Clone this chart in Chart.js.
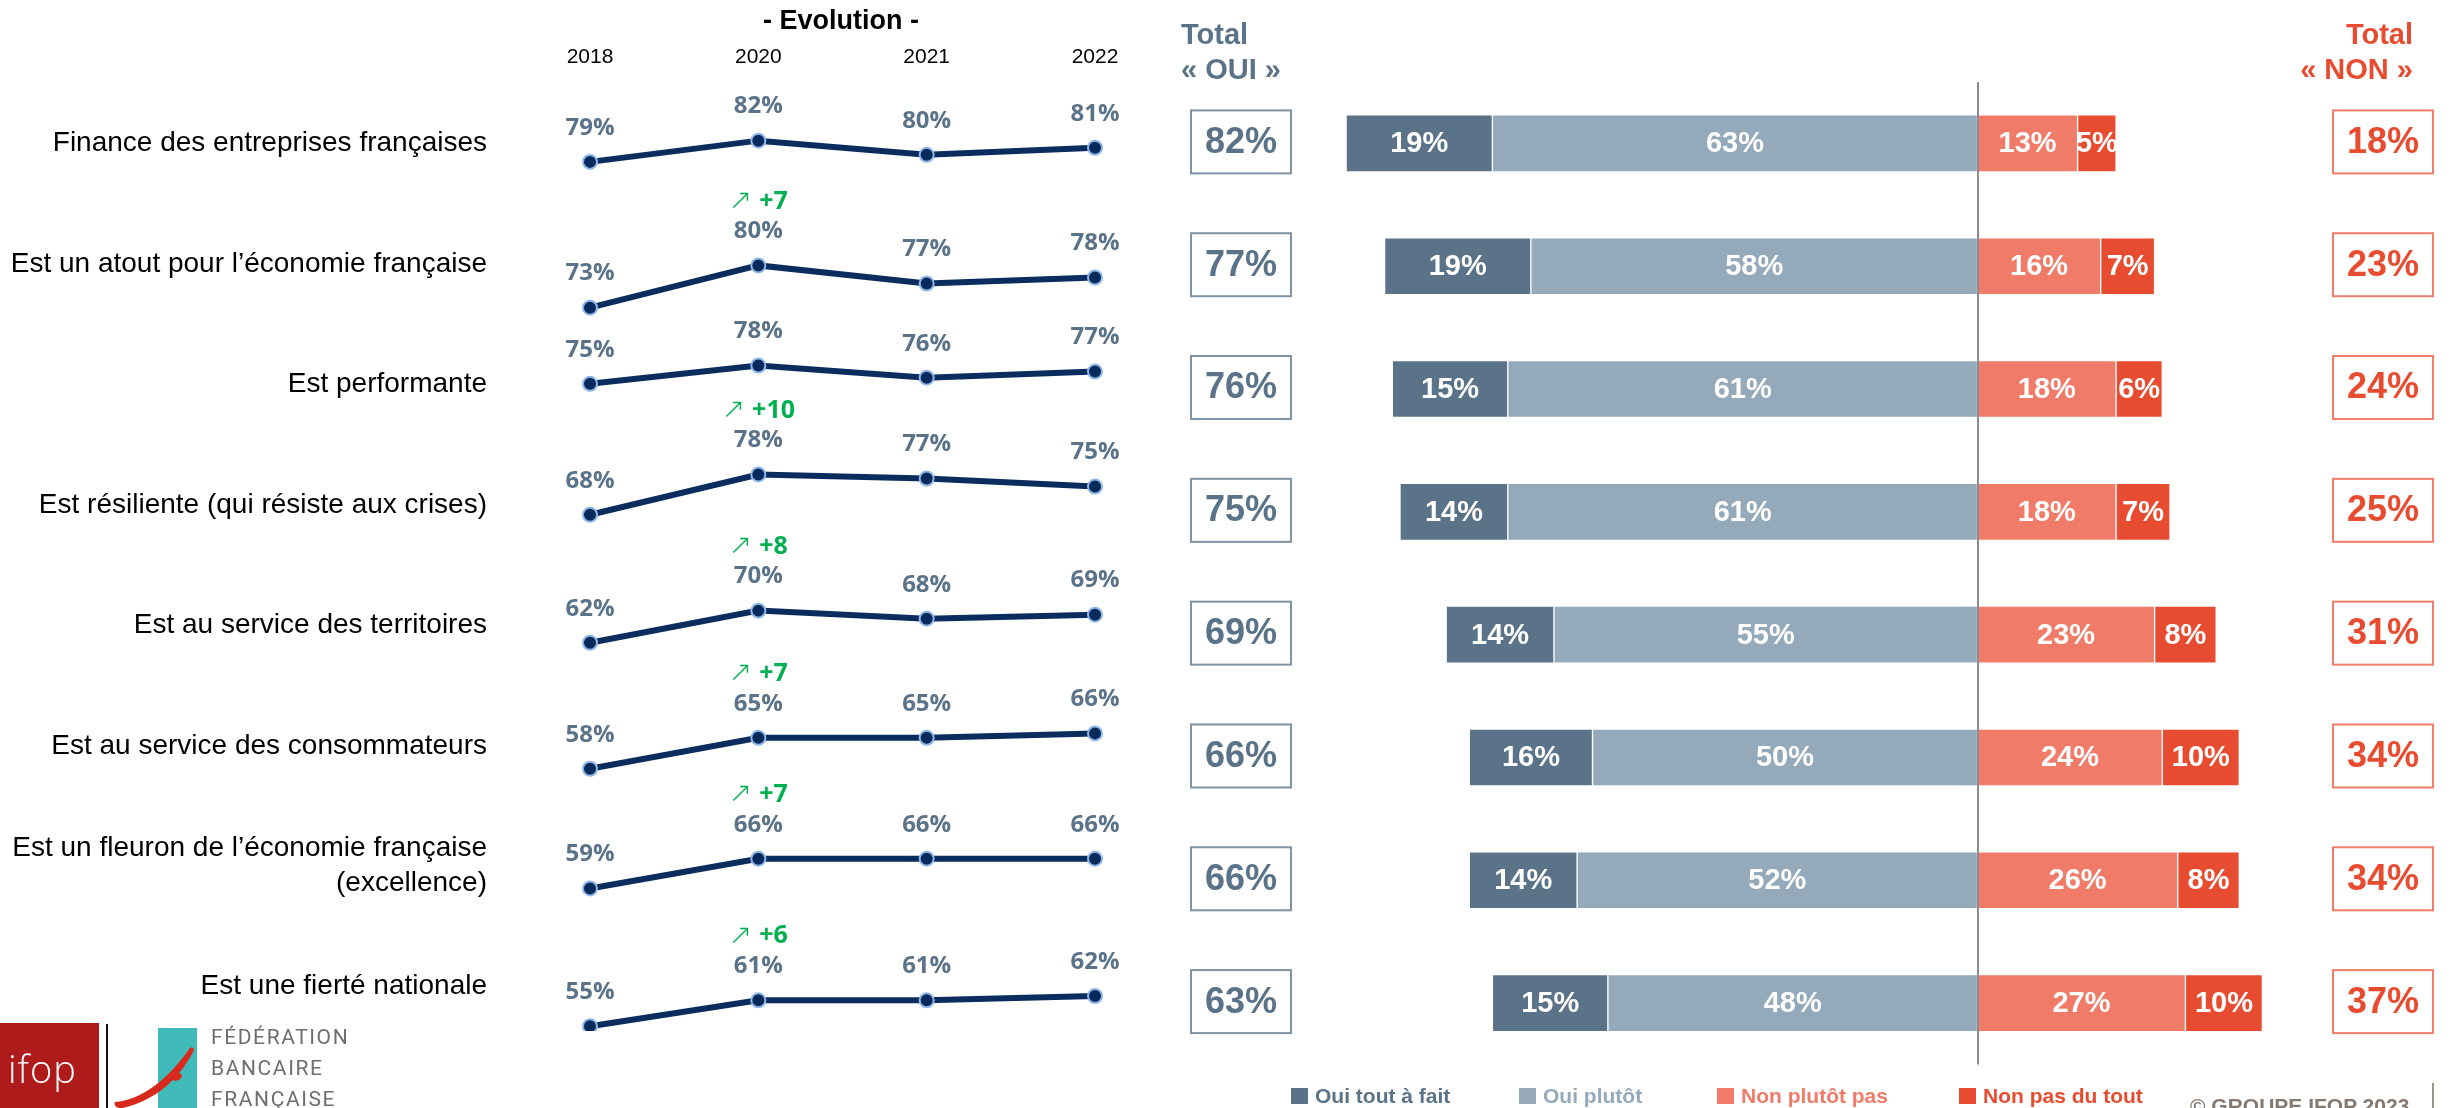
<!DOCTYPE html>
<html lang="fr">
<head>
<meta charset="utf-8">
<title>Image du secteur bancaire</title>
<script src="https://cdn.jsdelivr.net/npm/chart.js@4.4.1/dist/chart.umd.min.js"></script>
<style>
  html, body { margin: 0; padding: 0; background: #fff; width: 2453px; height: 1108px; overflow: hidden; }
  body { position: relative; font-family: "Liberation Sans", Arial, sans-serif; }
  canvas { position: absolute; }
  #bars { left: 0; top: 0; }
  #evol { left: 540px; top: 0; }
  .abs { position: absolute; white-space: nowrap; }
  #evolTitle { left: 741px; top: 6.5px; width: 200px; text-align: center; font-weight: 700; font-size: 27px; line-height: 27px; color: #000; }
  .totalHead { top: 16.5px; font-weight: 700; font-size: 29px; line-height: 35px; }
  #headOui { left: 1181px; color: #5A7389; }
  #headNon { right: 40px; text-align: right; color: #E84C30; }
  .leg { top: 1084px; height: 24px; display: flex; align-items: center; font-weight: 700; font-size: 21px; }
  .leg span.sq { width: 17px; height: 16px; display: inline-block; margin-right: 7px; }
  #copy { left: 2190px; top: 1095px; font-weight: 700; font-size: 21px; line-height: 21px; color: #857A72; }
  #copyBar { left: 2432px; top: 1083px; width: 2px; height: 25px; background: #9E958E; }
  #ifop { left: 0; top: 1023px; width: 99px; height: 85px; background: #AF1B1B; }
  #ifop span { position: absolute; left: 8px; top: 20px; color: #fff; font-family: "Open Sans", sans-serif; font-weight: 300; font-size: 38px; letter-spacing: 1px; line-height: 50px; }
  #sep { left: 106px; top: 1024px; width: 2px; height: 84px; background: #111; }
  #fbfTeal { left: 158px; top: 1028px; width: 39px; height: 80px; background: #41BBBA; }
  #fbfMark { left: 110px; top: 1040px; }
  #fbfText { left: 211px; top: 1021.5px; font-family: Roboto, "Liberation Sans", sans-serif; font-size: 21px; line-height: 31px; letter-spacing: 1.6px; color: #6D6E70; }
</style>
</head>
<body>
<canvas id="bars" width="2453" height="1108"></canvas>
<canvas id="evol" width="600" height="1040"></canvas>

<div class="abs" id="evolTitle">- Evolution -</div>
<div class="abs totalHead" id="headOui">Total<br>« OUI »</div>
<div class="abs totalHead" id="headNon">Total<br>« NON »</div>

<div class="abs leg" style="left:1291px;color:#5A7389"><span class="sq" style="background:#5A7389"></span>Oui tout à fait</div>
<div class="abs leg" style="left:1519px;color:#94A9BA"><span class="sq" style="background:#94A9BA"></span>Oui plutôt</div>
<div class="abs leg" style="left:1717px;color:#EF7B68"><span class="sq" style="background:#EF7B68"></span>Non plutôt pas</div>
<div class="abs leg" style="left:1959px;color:#E84C30"><span class="sq" style="background:#E84C30"></span>Non pas du tout</div>

<div class="abs" id="copy">© GROUPE IFOP 2023</div>
<div class="abs" id="copyBar"></div>

<div class="abs" id="ifop"><span>ifop</span></div>
<div class="abs" id="sep"></div>
<div class="abs" id="fbfTeal"></div>
<svg class="abs" id="fbfMark" width="100" height="68" viewBox="0 0 100 68">
  <path d="M5,62 C30,60 56,42 80,8 C83,6 85,9 83,12 C68,40 46,60 13,68 C7,69 3,65 5,62 Z" fill="#D9281C"/>
  <path d="M63,40 C64,34 70,32 72,35 C72,39 67,42 63,40 Z" fill="#D9281C"/>
</svg>
<div class="abs" id="fbfText">FÉDÉRATION<br>BANCAIRE<br>FRANÇAISE</div>

<script>
// ---- Survey items ----
const categories = [
  "Finance des entreprises françaises",
  "Est un atout pour l’économie française",
  "Est performante",
  "Est résiliente (qui résiste aux crises)",
  "Est au service des territoires",
  "Est au service des consommateurs",
  ["Est un fleuron de l’économie française", "(excellence)"],
  "Est une fierté nationale"
];

// ---- 2022 answers (%) ----
const ouiToutAFait = [19, 19, 15, 14, 14, 16, 14, 15];
const ouiPlutot    = [63, 58, 61, 61, 55, 50, 52, 48];
const nonPlutotPas = [13, 16, 18, 18, 23, 24, 26, 27];
const nonPasDuTout = [5, 7, 6, 7, 8, 10, 8, 10];
const totalOui     = [82, 77, 76, 75, 69, 66, 66, 63];
const totalNon     = [18, 23, 24, 25, 31, 34, 34, 37];

// ---- Evolution of the total "oui" (%) ----
const years = ["2018", "2020", "2021", "2022"];
const evolFinance       = [79, 82, 80, 81];
const evolAtout         = [73, 80, 77, 78];
const evolPerformante   = [75, 78, 76, 77];
const evolResiliente    = [68, 78, 77, 75];
const evolTerritoires   = [62, 70, 68, 69];
const evolConsommateurs = [58, 65, 65, 66];
const evolFleuron       = [59, 66, 66, 66];
const evolFierte        = [55, 61, 61, 62];
// significant change 2020 vs 2018 (points), shown in green
const evolDelta = [null, 7, null, 10, 8, 7, 7, 6];

const evolutionRows = [evolFinance, evolAtout, evolPerformante, evolResiliente,
                       evolTerritoires, evolConsommateurs, evolFleuron, evolFierte];

// vertical window [min, max] of each row's own hidden y scale, so every line sits in its row
const evolAxisRange = [
  [-43.8, 100.6], [-46.9, 122.5], [-31.2, 136.5], [-60.1, 193.5],
  [-34.6, 219.7], [-1.3, 229.8], [25.5, 265.7], [53.9, 290.3]
];

// ---------- Evolution mini-lines ----------
const evolLabels = {
  id: 'evolLabels',
  afterDatasetsDraw(chart) {
    const ctx = chart.ctx;
    ctx.save();
    ctx.textAlign = 'center';
    ctx.textBaseline = 'middle';
    chart.data.datasets.forEach((ds, i) => {
      const meta = chart.getDatasetMeta(i);
      ctx.font = '700 24px "Open Sans", sans-serif';
      ctx.fillStyle = '#5B7389';
      meta.data.forEach((pt, j) => {
        ctx.fillText(ds.data[j] + '%', pt.x, pt.y - 34);
      });
      const d = evolDelta[i];
      if (d !== null) {
        const pt = meta.data[1];
        const y = pt.y - 64;
        const arrow = '\u2197';
        const txt = '+' + d;
        ctx.font = '200 28px "DejaVu Sans", sans-serif';
        const wa = ctx.measureText(arrow).width;
        ctx.font = '700 25px "Open Sans", sans-serif';
        const wt = ctx.measureText(txt).width;
        const gap = 7;
        const x0 = pt.x - (wa + gap + wt) / 2;
        ctx.fillStyle = '#00B050';
        ctx.textAlign = 'left';
        ctx.font = '200 28px "DejaVu Sans", sans-serif';
        ctx.fillText(arrow, x0, y);
        ctx.font = '700 25px "Open Sans", sans-serif';
        ctx.fillText(txt, x0 + wa + gap, y);
        ctx.textAlign = 'center';
      }
    });
    // year captions above the first row
    const xs = chart.scales.x;
    ctx.font = '21px "Liberation Sans", Arial, sans-serif';
    ctx.fillStyle = '#000';
    years.forEach((y, j) => ctx.fillText(y, xs.getPixelForValue(j), 57));
    ctx.restore();
  }
};

const evolScales = { x: { type: 'category', display: false } };
evolAxisRange.forEach((r, i) => {
  evolScales['y' + i] = { type: 'linear', display: false, min: r[0], max: r[1] };
});

new Chart(document.getElementById('evol'), {
  type: 'line',
  data: {
    labels: years,
    datasets: evolutionRows.map((vals, i) => ({
      data: vals,
      yAxisID: 'y' + i,
      borderColor: '#0A2D5E',
      borderWidth: 6,
      pointRadius: 7,
      pointBackgroundColor: '#062A5B',
      pointBorderColor: '#8FB6E6',
      pointBorderWidth: 2,
      tension: 0
    }))
  },
  options: {
    responsive: false,
    animation: false,
    layout: { padding: { left: 50, right: 45, top: 0, bottom: 0 } },
    scales: evolScales,
    plugins: { legend: { display: false }, tooltip: { enabled: false } }
  },
  plugins: [evolLabels]
});

// ---------- Diverging stacked bars ----------
const CAT_LABEL_RIGHT = 487;   // right edge of the item captions
const CAPTION_PITCH = 0.981;   // captions sit on a slightly tighter pitch than the bars

const barDecor = {
  id: 'barDecor',
  afterDatasetsDraw(chart) {
    const ctx = chart.ctx;
    const xs = chart.scales.x, ys = chart.scales.y;
    const area = chart.chartArea;
    ctx.save();
    ctx.textBaseline = 'middle';

    // item captions, one per category row
    ctx.font = '28px "Liberation Sans", Arial, sans-serif';
    ctx.fillStyle = '#000';
    ctx.textAlign = 'right';
    const y0 = ys.getPixelForValue(0);
    chart.data.labels.forEach((lab, j) => {
      const yc = y0 + (ys.getPixelForValue(j) - y0) * CAPTION_PITCH;
      const lines = Array.isArray(lab) ? lab : [lab];
      const lh = 35;
      lines.forEach((ln, k) => {
        ctx.fillText(ln, CAT_LABEL_RIGHT, yc + (k - (lines.length - 1) / 2) * lh);
      });
    });

    // segment values
    ctx.font = '700 29px "Liberation Sans", Arial, sans-serif';
    ctx.fillStyle = '#fff';
    ctx.textAlign = 'center';
    chart.data.datasets.forEach((ds, i) => {
      chart.getDatasetMeta(i).data.forEach((bar, j) => {
        ctx.fillText(Math.abs(ds.data[j]) + '%', (bar.x + bar.base) / 2, bar.y + 1);
      });
    });

    // zero line
    const x0 = Math.round(xs.getPixelForValue(0));
    ctx.strokeStyle = '#8C8C8C';
    ctx.lineWidth = 2;
    ctx.beginPath();
    ctx.moveTo(x0, area.top);
    ctx.lineTo(x0, area.bottom);
    ctx.stroke();

    // totals in framed boxes
    ctx.lineWidth = 2;
    ctx.font = '700 36px "Liberation Sans", Arial, sans-serif';
    chart.data.labels.forEach((lab, j) => {
      const yc = ys.getPixelForValue(j) - 1.5;
      ctx.strokeStyle = '#7D93A6';
      ctx.strokeRect(1191, yc - 31.5, 100, 63);
      ctx.fillStyle = '#5A7389';
      ctx.fillText(totalOui[j] + '%', 1241, yc + 1);
      ctx.strokeStyle = '#F07E6A';
      ctx.strokeRect(2333, yc - 31.5, 100, 63);
      ctx.fillStyle = '#E84C30';
      ctx.fillText(totalNon[j] + '%', 2383, yc + 1);
    });
    ctx.restore();
  }
};

new Chart(document.getElementById('bars'), {
  type: 'bar',
  data: {
    labels: categories,
    datasets: [
      { label: 'Oui plutôt',      data: ouiPlutot.map(v => -v),    backgroundColor: '#94A9BA' },
      { label: 'Oui tout à fait', data: ouiToutAFait.map(v => -v), backgroundColor: '#5A7389' },
      { label: 'Non plutôt pas',  data: nonPlutotPas,              backgroundColor: '#EF7B68' },
      { label: 'Non pas du tout', data: nonPasDuTout,              backgroundColor: '#E84C30' }
    ]
  },
  options: {
    indexAxis: 'y',
    responsive: false,
    animation: false,
    layout: { padding: { left: 1130.5, right: 13.5, top: 82, bottom: 43.5 } },
    datasets: { bar: { barThickness: 57, borderColor: '#fff', borderWidth: 1, borderSkipped: false } },
    scales: {
      x: { display: false, stacked: true, min: -110, max: 60 },
      y: { display: false, stacked: true }
    },
    plugins: { legend: { display: false }, tooltip: { enabled: false } }
  },
  plugins: [barDecor]
});
</script>
</body>
</html>
